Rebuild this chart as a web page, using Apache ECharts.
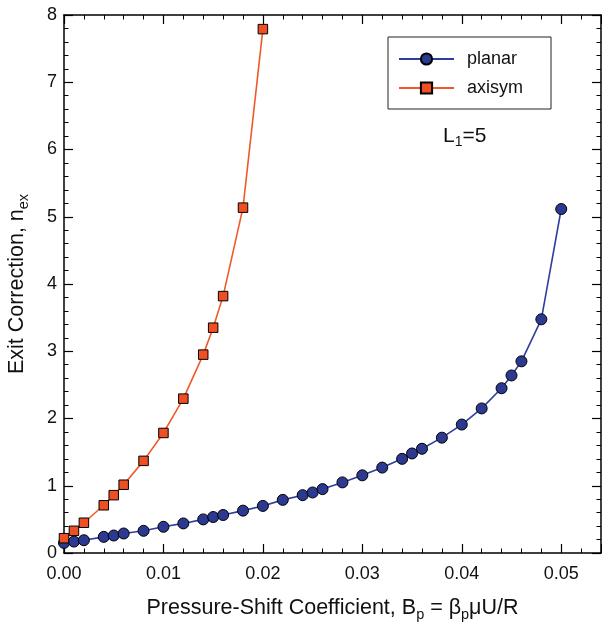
<!DOCTYPE html>
<html><head><meta charset="utf-8">
<script src="https://cdn.jsdelivr.net/npm/echarts@6/dist/echarts.min.js"></script>
<style>html,body{margin:0;padding:0;background:#fff}#c{width:602px;height:623px}</style>
</head><body><div id="c"></div>
<script>
const planarX = [0,0.001,0.002,0.004,0.005,0.006,0.008,0.010,0.012,0.014,0.015,0.016,0.018,0.020,0.022,0.024,0.025,0.026,0.028,0.030,0.032,0.034,0.035,0.036,0.038,0.040,0.042,0.044,0.045,0.046,0.048,0.050];
const planarY = [0.15,0.17,0.19,0.24,0.26,0.29,0.33,0.39,0.44,0.50,0.535,0.565,0.63,0.70,0.79,0.86,0.90,0.95,1.05,1.155,1.27,1.40,1.48,1.55,1.715,1.91,2.15,2.45,2.64,2.85,3.475,5.115];
const axisymX = [0,0.001,0.002,0.004,0.005,0.006,0.008,0.010,0.012,0.014,0.015,0.016,0.018,0.020];
const axisymY = [0.22,0.33,0.45,0.71,0.86,1.015,1.37,1.785,2.295,2.95,3.35,3.82,5.135,7.79];
const xTickLabels = ['0.00','0.01','0.02','0.03','0.04','0.05'];

const FONT = 'Liberation Sans, Arial, Helvetica, sans-serif';
const chart = echarts.init(document.getElementById('c'));
const tickCommon = {
  axisLine: {show: true, onZero: false, lineStyle: {color: '#000', width: 1.5}},
  axisTick: {show: true, inside: true, length: 9, lineStyle: {color: '#000', width: 1.2}},
  minorTick: {show: true, splitNumber: 5, length: 4.5, lineStyle: {color: '#000', width: 1}},
  splitLine: {show: false}
};
const xBase = {type: 'value', min: 0, max: 0.054, interval: 0.01};
const yBase = {type: 'value', min: 0, max: 8, interval: 1};
chart.setOption({
  animation: false,
  grid: {left: 64, top: 15, right: 1, bottom: 70, containLabel: false, outerBoundsMode: 'none'},
  xAxis: [
    Object.assign({}, xBase, tickCommon, {
      position: 'bottom',
      axisLabel: {fontFamily: FONT, fontSize: 18, color: '#111', margin: 12,
        formatter: v => { const r = v / 0.01, i = Math.round(r); return (Math.abs(r - i) < 1e-6 && xTickLabels[i] !== undefined) ? xTickLabels[i] : ''; }},
      name: '{a|Pressure-Shift Coefficient, B}{s|p}{a| = β}{s|p}{a|μU/R}',
      nameLocation: 'middle', nameGap: 42,
      nameTextStyle: {rich: {
        a: {fontFamily: FONT, fontSize: 21.5, color: '#111'},
        s: {fontFamily: FONT, fontSize: 14.5, color: '#111', padding: [12, 0, 0, 0]}
      }}
    }),
    Object.assign({}, xBase, tickCommon, {position: 'top', axisLabel: {show: false}})
  ],
  yAxis: [
    Object.assign({}, yBase, tickCommon, {
      position: 'left',
      axisLabel: {fontFamily: FONT, fontSize: 18, color: '#111', margin: 7},
      name: '{a|Exit Correction, n}{s|ex}',
      nameLocation: 'middle', nameGap: 33, nameRotate: 90,
      nameTextStyle: {rich: {
        a: {fontFamily: FONT, fontSize: 21.5, color: '#111'},
        s: {fontFamily: FONT, fontSize: 14.5, color: '#111', padding: [12, 0, 0, 0]}
      }}
    }),
    Object.assign({}, yBase, tickCommon, {position: 'right', axisLabel: {show: false}})
  ],
  legend: {
    orient: 'vertical', left: 388, top: 37,
    itemWidth: 55, itemHeight: 14, itemGap: 11,
    padding: [13, 28, 12, 10],
    borderColor: '#222', borderWidth: 1, backgroundColor: '#fff', borderRadius: 0,
    textStyle: {fontFamily: FONT, fontSize: 18, lineHeight: 18, color: '#111', padding: [0, 0, 0, 8]},
    data: ['planar', 'axisym']
  },
  graphic: [{
    type: 'text', left: 443, top: 126,
    style: {text: '{a|L}{s|1}{a|=5}', rich: {
      a: {fontFamily: FONT, fontSize: 21, fill: '#111'},
      s: {fontFamily: FONT, fontSize: 14, fill: '#111', padding: [12, 0, 0, 0]}
    }}
  }],
  series: [
    {
      name: 'planar', type: 'line', xAxisIndex: 0, yAxisIndex: 0,
      data: planarX.map((x, i) => [x, planarY[i]]),
      symbol: 'circle', symbolSize: 11,
      lineStyle: {color: '#2f3e9e', width: 1.6},
      itemStyle: {color: '#2b3990', borderColor: '#000', borderWidth: 1},
      clip: false, z: 3
    },
    {
      name: 'axisym', type: 'line', xAxisIndex: 0, yAxisIndex: 0,
      data: axisymX.map((x, i) => [x, axisymY[i]]),
      symbol: 'rect', symbolSize: 9.5,
      lineStyle: {color: '#f05a28', width: 1.6},
      itemStyle: {color: '#f04e23', borderColor: '#000', borderWidth: 1},
      clip: false, z: 4
    }
  ]
});
</script></body></html>
